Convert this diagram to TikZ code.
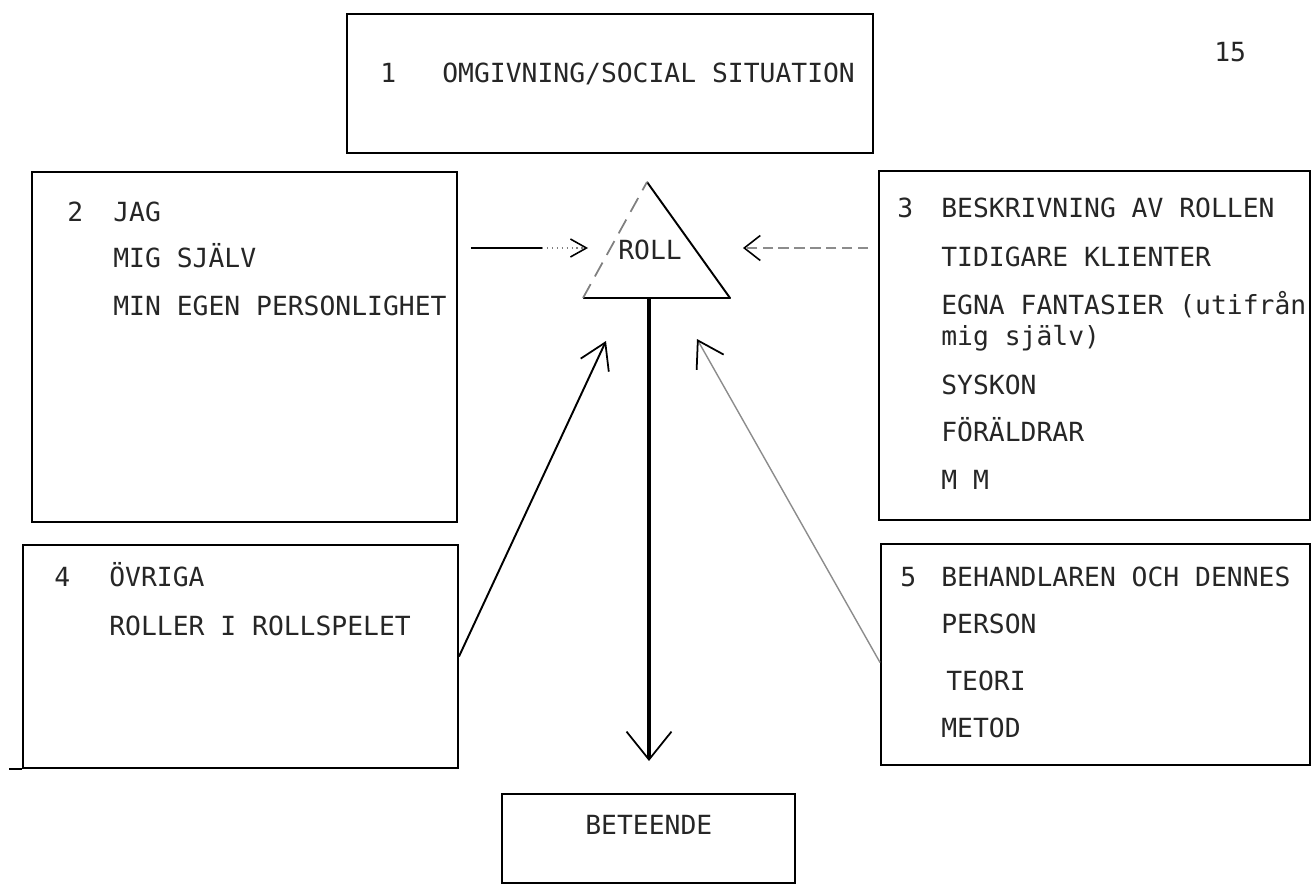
\documentclass[tikz,border=0pt]{standalone}
\usepackage{fontspec}
\setmonofont{DejaVu Sans Mono}
\usetikzlibrary{arrows.meta,fit,calc}
\begin{document}
\begin{tikzpicture}[x=0.02cm,y=-0.02cm,
  box/.style={draw, line width=1.1pt, inner sep=0pt},
  txt/.style={anchor=base west, inner sep=0pt, font=\ttfamily\fontsize{15}{18}\selectfont, text=black!85},
  bigbarb/.style={-{Straight Barb[length=0.5cm,width=0.62cm,line width=1pt]}},
  graybarb/.style={-{Straight Barb[black,length=0.5cm,width=0.62cm,line width=1pt]}},
]
\useasboundingbox (0,0) rectangle (1312,885);

% boxes
\node[box, fit={(347,14) (873,153)}] (b1) {};
\node[box, fit={(32,172) (457,522)}] (b2) {};
\node[box, fit={(879,171) (1310,520)}] (b3) {};
\node[box, fit={(23,545) (458,768)}] (b4) {};
\node[box, fit={(881,544) (1310,765)}] (b5) {};
\node[box, fit={(502,794) (795,883)}] (b6) {};
\draw[line width=1.1pt] (b4.south west) -- ++(-13,0);

% page number
\node[txt] (pg) at (1214,61.5) {15};

% box 1 text
\node[txt] (n1) at (380,82.5) {1};
\node[txt] (t1) at (442,82.5) {OMGIVNING/SOCIAL SITUATION};

% box 2 text
\node[txt] (n2) at (67,221.5) {2};
\node[txt] (t2a) at (113,221.5) {JAG};
\node[txt] (t2b) at (113,267.5) {MIG SJÄLV};
\node[txt] (t2c) at (113,315.5) {MIN EGEN PERSONLIGHET};

% box 3 text
\node[txt] (n3) at (897,217.5) {3};
\node[txt] (t3a) at (941,217.5) {BESKRIVNING AV ROLLEN};
\node[txt] (t3b) at (941,266.5) {TIDIGARE KLIENTER};
\node[txt] (t3c) at (941,314.5) {EGNA FANTASIER (utifrån};
\node[txt] (t3d) at (941,345) {mig själv)};
\node[txt] (t3e) at (941,394.5) {SYSKON};
\node[txt] (t3f) at (941,441.5) {FÖRÄLDRAR};
\node[txt] (t3g) at (941,489.5) {M M};

% box 4 text
\node[txt] (n4) at (54,586.5) {4};
\node[txt] (t4a) at (109,586.5) {ÖVRIGA};
\node[txt] (t4b) at (109,635.5) {ROLLER I ROLLSPELET};

% box 5 text
\node[txt] (n5) at (900,586.5) {5};
\node[txt] (t5a) at (941,586.5) {BEHANDLAREN OCH DENNES};
\node[txt] (t5b) at (941,633.5) {PERSON};
\node[txt] (t5c) at (946,690.5) {TEORI};
\node[txt] (t5d) at (941,737.5) {METOD};

% box 6 text
\node[txt] (t6) at (585,834.5) {BETEENDE};

% triangle
\coordinate (tA) at (647,182);
\coordinate (tL) at (583,298);
\coordinate (tR) at (730,298);
\draw[line width=1.1pt, line join=round] (tA) -- (tR) -- (tL);
\draw[line width=1pt, black!50, dash pattern=on 9pt off 5pt] (tL) -- (tA);
\node[txt] (roll) at (618,259.5) {ROLL};

% vertical arrow to BETEENDE
\coordinate (tB) at (649,298);
\coordinate (vTip) at (649,761);
\draw[line width=1.8pt, -{Straight Barb[length=0.56cm,width=0.9cm,line width=1pt]}] (tB) -- (vTip);

% arrow from box 2
\coordinate (a2) at (588,248);
\coordinate (a2m) at (542,248);
\draw[line width=1.1pt] ($(b2.east |- a2)+(13,0)$) -- (a2m);
\draw[black!50, dotted, line width=0.8pt, -{Straight Barb[black,length=0.32cm,width=0.36cm,line width=0.9pt]}] (a2m) -- (a2);

% arrow from box 3
\coordinate (a3) at (743,248);
\draw[black!45, dash pattern=on 6pt off 3pt, line width=0.8pt, -{Straight Barb[black,length=0.32cm,width=0.5cm,line width=0.9pt]}] ($(b3.west |- a3)+(-10,0)$) -- (a3);

% arrow from box 4
\coordinate (a4) at (606,341);
\draw[line width=1.1pt, bigbarb] (b4.east) -- (a4);

% arrow from box 5
\coordinate (a5) at (697,339);
\draw[black!45, line width=0.8pt, graybarb] ($(b5.west)+(0,8)$) -- (a5);
\end{tikzpicture}
\end{document}
